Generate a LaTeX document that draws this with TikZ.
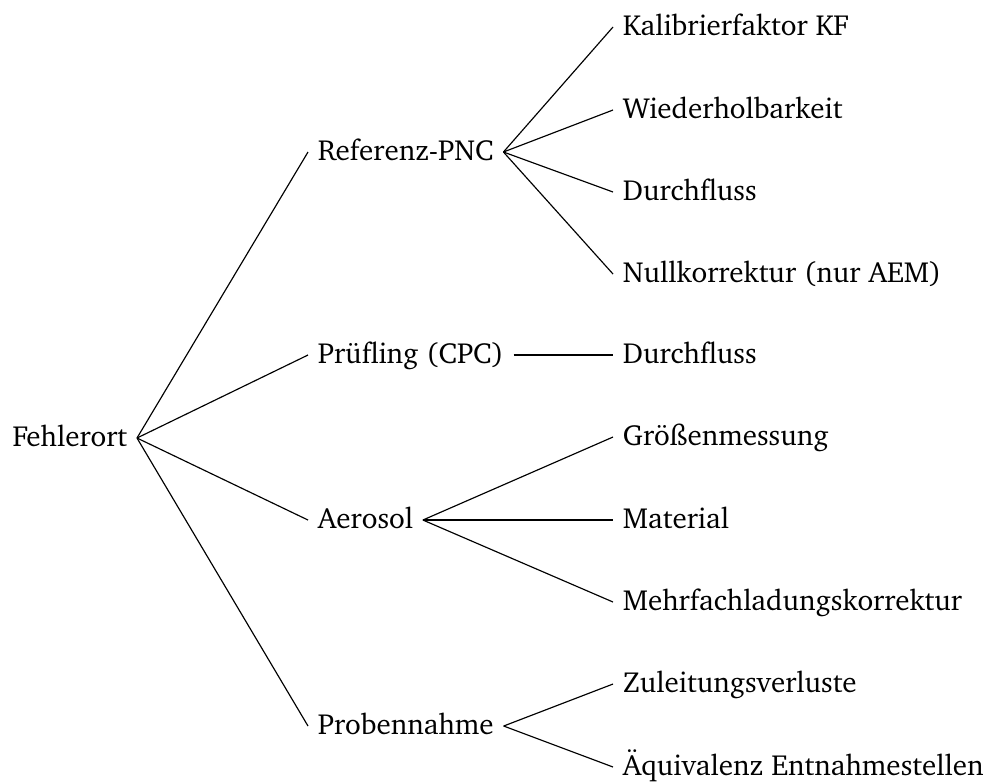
\documentclass[tikz,border=0pt]{standalone}
\usepackage[T1]{fontenc}
\usepackage{charter}
\usepackage{tikz}

\tikzset{
    branch/.style={anchor=west, text height=1.6ex, text depth=0.4ex, inner sep=3.2pt},
    leaf/.style={anchor=west, text height=1.6ex, text depth=0.4ex, inner sep=3.2pt}
}

\begin{document}
\begin{tikzpicture}[x=0.344pt,y=-0.344pt]
    \useasboundingbox (0,0) rectangle (987,781);
    % root
    \node (fehlerort) [anchor=east, text height=1.6ex, text depth=0.4ex, inner sep=3.2pt] at (137,438) {Fehlerort};
    % first level
    \node (referenz) [branch] at (308,152) {Referenz-PNC};
    \node (pruefling) [branch] at (308,355) {Prüfling (CPC)};
    \node (aerosol) [branch] at (308,520) {Aerosol};
    \node (probe) [branch] at (308,726) {Probennahme};
    % second level
    \node (kf) [leaf] at (613,27) {Kalibrierfaktor KF};
    \node (wiederhol) [leaf] at (613,110) {Wiederholbarkeit};
    \node (durchflussA) [leaf] at (613,192) {Durchfluss};
    \node (nullkorr) [leaf] at (613,274) {Nullkorrektur (nur AEM)};
    \node (durchflussB) [leaf] at (613,355) {Durchfluss};
    \node (groesse) [leaf] at (613,437) {Grö\ss{}enmessung};
    \node (material) [leaf] at (613,520) {Material};
    \node (mehrfach) [leaf] at (613,602) {Mehrfachladungskorrektur};
    \node (zuleitung) [leaf] at (613,684) {Zuleitungsverluste};
    \node (aequiv) [leaf] at (613,767) {Äquivalenz Entnahmestellen};

    \foreach \kid in {referenz,pruefling,aerosol,probe}
        \draw (fehlerort.east) -- (\kid.west);
    \foreach \kid in {kf,wiederhol,durchflussA,nullkorr}
        \draw (referenz.east) -- (\kid.west);
    \draw (pruefling.east) -- (durchflussB.west);
    \foreach \kid in {groesse,material,mehrfach}
        \draw (aerosol.east) -- (\kid.west);
    \foreach \kid in {zuleitung,aequiv}
        \draw (probe.east) -- (\kid.west);
\end{tikzpicture}
\end{document}
